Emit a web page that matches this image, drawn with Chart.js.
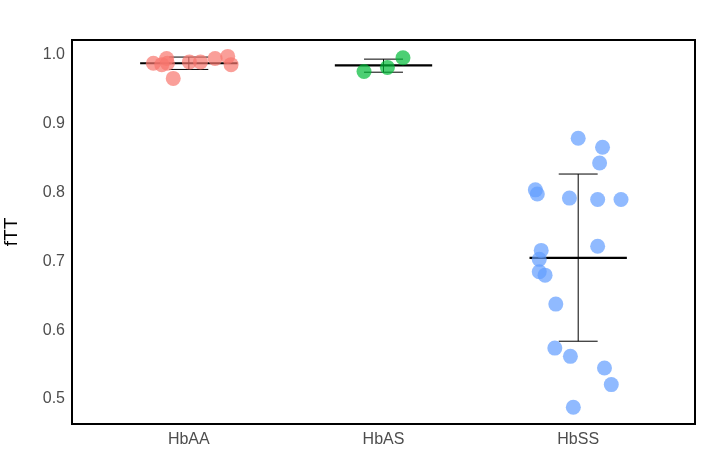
<!DOCTYPE html>
<html>
<head>
<script src="https://cdn.jsdelivr.net/npm/chart.js@4"></script>
<style>body{margin:0;background:#fff}#wrap{width:715px;height:462px}</style>
</head>
<body>
<div id="wrap"><canvas id="c"></canvas></div>
<script>
const groups = ['HbAA', 'HbAS', 'HbSS'];
const colors = ['rgba(248,118,109,0.7)', 'rgba(0,186,56,0.7)', 'rgba(97,156,255,0.7)'];
// jittered x position and fTT value for each point
const aaX = [0.818, 0.861, 0.886, 0.89, 0.92, 1.003, 1.06, 1.135, 1.2, 1.217];
const aaY = [0.988, 0.986, 0.995, 0.988, 0.966, 0.990, 0.990, 0.995, 0.998, 0.986];
const asX = [1.90, 2.02, 2.10];
const asY = [0.976, 0.982, 0.996];
const ssX = [3.00, 3.125, 3.11, 2.78, 2.79, 2.955, 3.10, 3.22, 3.10, 2.81, 2.80, 2.80, 2.83, 2.885, 2.88, 2.96, 3.135, 3.17, 2.975];
const ssY = [0.879, 0.866, 0.843, 0.804, 0.798, 0.792, 0.790, 0.790, 0.722, 0.716, 0.703, 0.685, 0.680, 0.638, 0.574, 0.562, 0.545, 0.521, 0.488];
// mean and mean +/- sd per group
const means = [0.988, 0.985, 0.705];
const lows = [0.979, 0.975, 0.584];
const highs = [0.997, 0.994, 0.827];

const pts = (xs, ys) => xs.map((x, i) => ({x: x, y: ys[i]}));
const meanLines = [], errLines = [];
means.forEach((m, i) => {
  const c = i + 1;
  meanLines.push({x: c - 0.25, y: m}, {x: c + 0.25, y: m}, {x: c, y: null});
  errLines.push({x: c - 0.1, y: highs[i]}, {x: c + 0.1, y: highs[i]}, {x: c, y: null},
    {x: c - 0.1, y: lows[i]}, {x: c + 0.1, y: lows[i]}, {x: c, y: null},
    {x: c, y: lows[i]}, {x: c, y: highs[i]}, {x: c, y: null});
});

const scatter = (d, col) => ({type: 'scatter', data: d, backgroundColor: col, borderColor: col,
  borderWidth: 0, pointRadius: 7.5, pointHoverRadius: 7.5});

new Chart(document.getElementById('c'), {
  data: {
    datasets: [
      scatter(pts(aaX, aaY), colors[0]),
      scatter(pts(asX, asY), colors[1]),
      scatter(pts(ssX, ssY), colors[2]),
      {type: 'line', data: errLines, borderColor: '#000', borderWidth: 1, pointRadius: 0, spanGaps: false},
      {type: 'line', data: meanLines, borderColor: '#000', borderWidth: 2.2, pointRadius: 0, spanGaps: false}
    ]
  },
  options: {
    responsive: true, maintainAspectRatio: false, animation: false,
    layout: {padding: {top: 40, right: 20, left: 0, bottom: 0}},
    plugins: {legend: {display: false}, tooltip: {enabled: false}},
    scales: {
      x: {
        type: 'linear', min: 0.4, max: 3.6,
        afterBuildTicks: a => { a.ticks = [1, 2, 3].map(v => ({value: v})); },
        afterFit: a => { a.height = 38; },
        ticks: {callback: v => groups[v - 1], color: '#4d4d4d', font: {family: 'Liberation Sans', size: 16}, padding: 2},
        grid: {display: false, drawTicks: true, tickLength: 4, tickColor: '#333'},
        border: {color: '#000', width: 2}
      },
      y: {
        min: 0.4637, max: 1.0218,
        afterBuildTicks: a => { a.ticks = [0.5, 0.6, 0.7, 0.8, 0.9, 1.0].map(v => ({value: v})); },
        afterFit: a => { a.width = 72; },
        ticks: {callback: v => v.toFixed(1), color: '#4d4d4d', font: {family: 'Liberation Sans', size: 16}, padding: 3},
        grid: {display: false, tickLength: 4, tickColor: '#333'},
        border: {color: '#000', width: 2},
        title: {display: true, text: 'fTT', color: '#000', font: {family: 'Liberation Sans', size: 19}, padding: 0}
      }
    }
  },
  plugins: [{
    id: 'box',
    afterDraw(ch) {
      const a = ch.chartArea, g = ch.ctx;
      g.save(); g.strokeStyle = '#000'; g.lineWidth = 2;
      g.strokeRect(a.left, a.top, a.right - a.left, a.bottom - a.top);
      g.restore();
    }
  }]
});
</script>
</body>
</html>
